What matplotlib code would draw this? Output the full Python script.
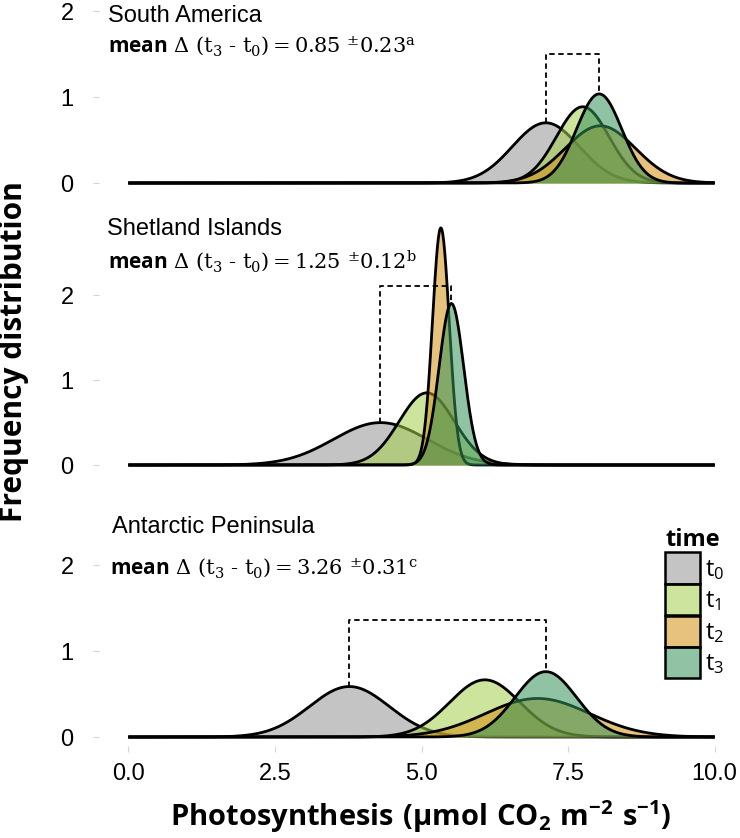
import numpy as np
import matplotlib
matplotlib.use("Agg")
import matplotlib.pyplot as plt
from matplotlib.patches import Patch
from matplotlib.colors import to_rgba

plt.rcParams['mathtext.fontset'] = 'custom'
plt.rcParams['mathtext.rm'] = 'DejaVu Serif'
plt.rcParams['mathtext.it'] = 'DejaVu Serif:italic'
plt.rcParams['mathtext.bf'] = 'Open Sans:bold'
plt.rcParams['mathtext.sf'] = 'Open Sans'

# ---------------- data ----------------
regions = ["South America", "Shetland Islands", "Antarctic Peninsula"]
times = ["t0", "t1", "t2", "t3"]
time_labels = [r"$\mathsf{t_0}$", r"$\mathsf{t_1}$", r"$\mathsf{t_2}$", r"$\mathsf{t_3}$"]
# Gaussian density parameters per region (rows) and time (columns)
means_sa = [7.12, 7.75, 8.05, 8.03]
sds_sa = [0.57, 0.45, 0.60, 0.385]
means_sh = [4.30, 5.09, 5.33, 5.51]
sds_sh = [0.80, 0.47, 0.143, 0.21]
means_ap = [3.77, 6.08, 6.98, 7.12]
sds_ap = [0.68, 0.60, 0.89, 0.525]
bracket_tops = [1.50, 2.11, 1.36]
delta_means = ["0.85", "1.25", "3.26"]
delta_ses = ["0.23", "0.12", "0.31"]
delta_letters = ["a", "b", "c"]
colors = ["#949494", "#a4ce4b", "#d59010", "#339359"]
fill_alpha = 0.55
yticks = [0, 1, 2]
xticks = [0.0, 2.5, 5.0, 7.5, 10.0]
xtick_labels = ["0.0", "2.5", "5.0", "7.5", "10.0"]

all_means = [means_sa, means_sh, means_ap]
all_sds = [sds_sa, sds_sh, sds_ap]

# ---------------- layout ----------------
W, H = 740, 838
fig = plt.figure(figsize=(W / 100, H / 100), dpi=100)

panel_px = [  # (top px, bottom px, ylim top)
    (0.7, 191.6, 2.12),
    (218.5, 473.5, 2.9),
    (556.4, 745.6, 2.1),
]
title_pos = [(108, 22), (107, 235), (112, 533)]
mean_pos = [(108, 53), (108, 268), (110, 575)]
left_px, right_px = 99, 744

x = np.linspace(0, 10, 1200)

def dens(m, s):
    return np.exp(-0.5 * ((x - m) / s) ** 2) / (s * np.sqrt(2 * np.pi))

for i, region in enumerate(regions):
    top, bot, ytop = panel_px[i]
    ax = fig.add_axes([left_px / W, 1 - bot / H, (right_px - left_px) / W, (bot - top) / H])
    ax.set_xlim(-0.5, 10.5)
    ax.set_ylim(-0.1, ytop)
    for j in range(len(times)):
        m, s = all_means[i][j], all_sds[i][j]
        d = dens(m, s)
        ax.fill_between(x, 0, d, color=colors[j], alpha=fill_alpha, lw=0, zorder=2 + j)
        ax.plot(x, d, color="black", lw=2.0, zorder=2 + j, solid_capstyle="butt")
    # dashed bracket between t0 and t3 peaks
    m0, s0 = all_means[i][0], all_sds[i][0]
    m3, s3 = all_means[i][3], all_sds[i][3]
    p0 = 1 / (s0 * np.sqrt(2 * np.pi))
    p3 = 1 / (s3 * np.sqrt(2 * np.pi))
    ax.plot([m0, m0, m3, m3], [p0, bracket_tops[i], bracket_tops[i], p3],
            color="black", lw=1.3, ls=(0, (3, 2)), zorder=10)
    for sp in ax.spines.values():
        sp.set_visible(False)
    ax.set_yticks(yticks)
    ax.set_yticklabels([str(t) for t in yticks], fontsize=17, family="Liberation Sans")
    ax.tick_params(axis="y", length=4.3, width=0.8, color="#d4d4d4", pad=14)
    if i == 2:
        ax.set_xticks(xticks)
        ax.set_xticklabels(xtick_labels, fontsize=17, family="Liberation Sans")
        ax.tick_params(axis="x", length=4.3, width=0.8, color="#d4d4d4", pad=8)
    else:
        ax.set_xticks([])
    ax.patch.set_visible(False)

    tx, ty = title_pos[i]
    fig.text(tx / W, 1 - ty / H, region, fontsize=17, family="Liberation Sans",
             va="baseline", ha="left")
    mx, my = mean_pos[i]
    s = (r"$\mathbf{mean}\ \Delta\ (\mathrm{t}_3\ \text{-}\ \mathrm{t}_0) = "
         + delta_means[i] + r"\ ^{\pm}" + delta_ses[i] + r"^{\mathrm{" + delta_letters[i] + "}}$")
    fig.text(mx / W, 1 - my / H, s, fontsize=15, va="baseline", ha="left")

# axis labels
fig.text(14 / W, 1 - 352 / H, "Frequency distribution", rotation=90, fontsize=21.5,
         family="Open Sans", weight="bold", ha="center", va="center")
fig.text(421 / W, 1 - 826 / H, r"$\mathbf{Photosynthesis\ (μmol\ CO_2\ m^{-2}\ s^{-1})}$",
         fontsize=21, ha="center", va="baseline")

# legend
handles = [Patch(facecolor=to_rgba(c, fill_alpha), edgecolor="black", linewidth=1.8) for c in colors]
leg = fig.legend(handles, time_labels, loc="upper left", bbox_to_anchor=(665 / W, 1 - 528 / H),
                 frameon=False, title="time",
                 title_fontproperties={"family": "Open Sans", "weight": "bold", "size": 17},
                 prop={"family": "Open Sans", "size": 17},
                 handlelength=1.5, handleheight=1.65, labelspacing=0.02,
                 handletextpad=0.2, borderpad=0, borderaxespad=0, alignment="left")

fig.savefig("out.png", dpi=100)
